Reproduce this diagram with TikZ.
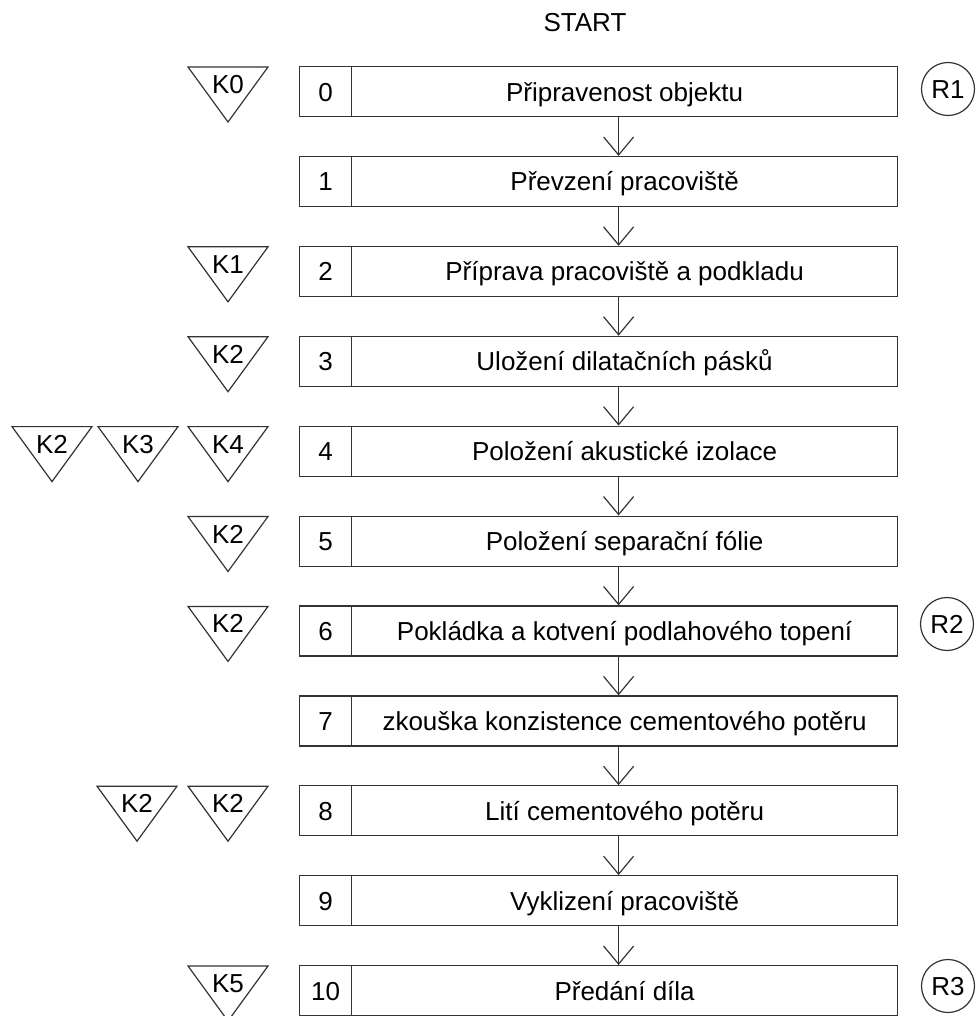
\documentclass[tikz,border=0pt]{standalone}
\usepackage{fontspec}
\setmainfont{Liberation Sans}
\usetikzlibrary{arrows.meta}

\tikzset{
  numcell/.style={draw, anchor=north west, inner sep=0pt, minimum width=52pt, minimum height=50pt,
    text height=19pt, text depth=0pt},
  textcell/.style={draw, anchor=north west, inner sep=0pt, minimum width=546pt, minimum height=50pt,
    text height=19pt, text depth=0pt},
  klabel/.style={inner sep=0pt, text height=19pt, text depth=0pt},
  rmark/.style={draw, circle, inner sep=0pt, minimum size=53pt, text height=19pt, text depth=0pt},
  flow/.style={-{Straight Barb[length=18pt,width=30pt]}}
}

\begin{document}
\begin{tikzpicture}[x=1pt, y=-1pt, line width=1.2pt, draw=black!80,
    font=\fontsize{26}{31}\selectfont]
            \useasboundingbox (0,0) rectangle (977,1016);
            \node[klabel] (start) at (585,22) {START};
            % steps
            \foreach \i/\txt in {0/Připravenost objektu, 1/Převzení pracoviště,
                2/Příprava pracoviště a podkladu, 3/Uložení dilatačních pásků,
                4/Položení akustické izolace, 5/Položení separační fólie,
                6/Pokládka a kotvení podlahového topení,
                7/zkouška konzistence cementového potěru,
                8/Lití cementového potěru, 9/Vyklizení pracoviště, 10/Předání díla} {
              \node[numcell] (n\i) at (299,{66+89.9*\i}) {\i};
              \node[textcell] (t\i) at (351,{66+89.9*\i}) {\txt};
            }
            \foreach \i [count=\j] in {0,...,9}
              \draw[flow] ([xshift=-6pt]t\i.south) -- ([xshift=-6pt]t\j.north);
            % controls
            \foreach \name/\col/\row/\txt in {k0/228/0/K0, k1/228/2/K1, k2/228/3/K2,
                k4a/52/4/K2, k4b/138/4/K3, k4c/228/4/K4, k5/228/5/K2, k6/228/6/K2,
                k8a/137/8/K2, k8b/228/8/K2, k10/228/10/K5} {
              \node[klabel] (\name) at (\col,{84+89.9*\row}) {\txt};
              \draw (\name.center) +(-40,-17) -- +(40,-17) -- +(0,38) -- cycle;
            }
            % records
            \node[rmark] (r1) at (948,89) {R1};
            \node[rmark] (r2) at (947,624) {R2};
            \node[rmark] (r3) at (948,986) {R3};
        \end{tikzpicture}
\end{document}
